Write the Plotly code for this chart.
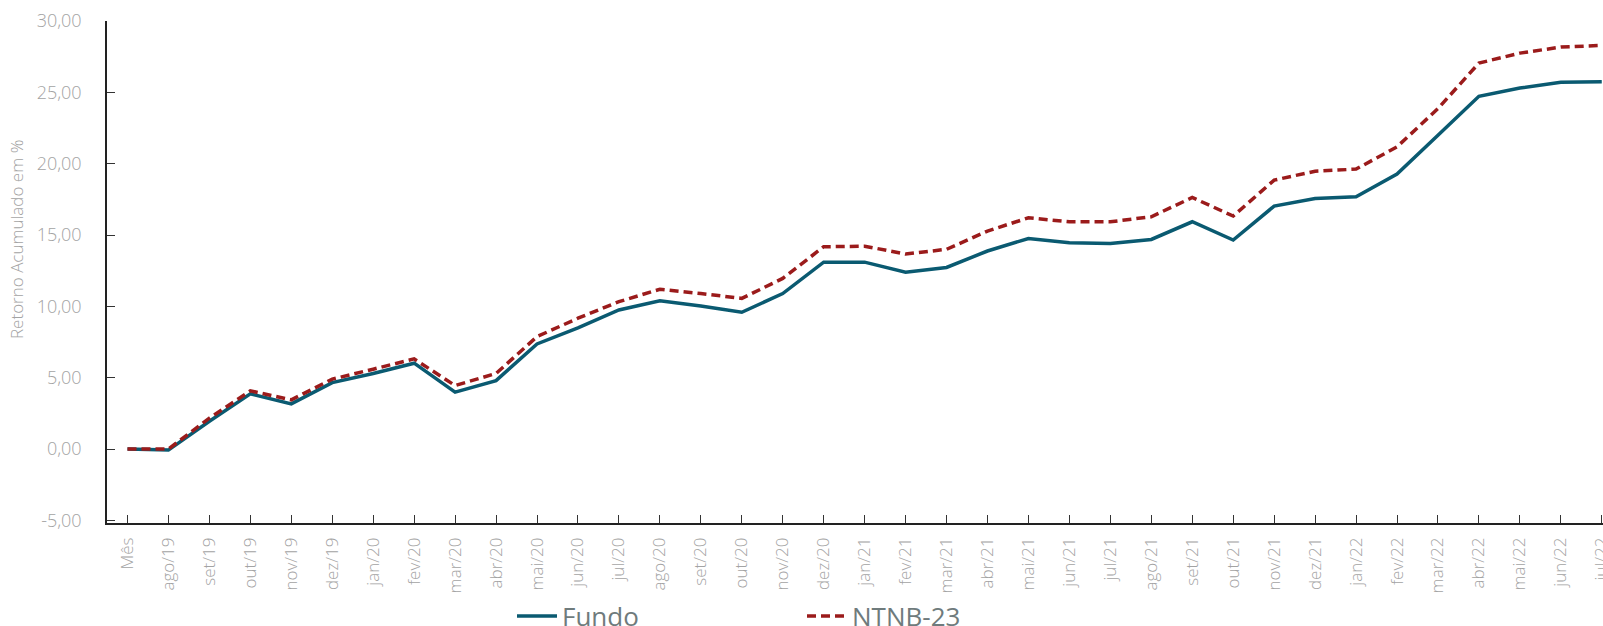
import plotly.graph_objects as go

# Month labels along the horizontal axis
months = [
    "Mês", "ago/19", "set/19", "out/19", "nov/19", "dez/19",
    "jan/20", "fev/20", "mar/20", "abr/20", "mai/20", "jun/20",
    "jul/20", "ago/20", "set/20", "out/20", "nov/20", "dez/20",
    "jan/21", "fev/21", "mar/21", "abr/21", "mai/21", "jun/21",
    "jul/21", "ago/21", "set/21", "out/21", "nov/21", "dez/21",
    "jan/22", "fev/22", "mar/22", "abr/22", "mai/22", "jun/22",
    "jul/22",
]

# Cumulative return (%) of the fund
fundo = [
    0.00, -0.07, 1.95, 3.87, 3.17, 4.66, 5.30, 6.02, 3.99, 4.80,
    7.37, 8.50, 9.75, 10.40, 10.03, 9.59, 10.90, 13.10, 13.10, 12.40,
    12.73, 13.88, 14.76, 14.46, 14.41, 14.69, 15.93, 14.65, 17.03, 17.56,
    17.68, 19.27, 22.00, 24.72, 25.30, 25.70, 25.75,
]

# Cumulative return (%) of the NTN-B 2023 benchmark
ntnb23 = [
    0.00, 0.00, 2.17, 4.08, 3.45, 4.90, 5.60, 6.32, 4.45, 5.30,
    7.88, 9.17, 10.33, 11.20, 10.90, 10.56, 11.96, 14.18, 14.22, 13.67,
    14.00, 15.28, 16.21, 15.93, 15.93, 16.28, 17.63, 16.33, 18.85, 19.47,
    19.62, 21.18, 23.86, 27.05, 27.75, 28.17, 28.29,
]

# Y axis ticks, with Brazilian decimal comma
y_tick_values = [-5, 0, 5, 10, 15, 20, 25, 30]
y_tick_labels = ["-5,00", "0,00", "5,00", "10,00", "15,00", "20,00", "25,00", "30,00"]

BLUE = "#0a5a71"
RED = "#9b1b1b"
TICK_GRAY = "#a3a3a3"
LEGEND_GRAY = "#6f7b7c"
FONT = "Open Sans"

fig = go.Figure()
fig.add_trace(go.Scatter(
    x=months, y=fundo, name="Fundo", mode="lines",
    line=dict(color=BLUE, width=3.5), legend="legend",
))
fig.add_trace(go.Scatter(
    x=months, y=ntnb23, name="NTNB-23", mode="lines",
    line=dict(color=RED, width=3.5, dash="9px,5px"), legend="legend2",
))

legend_common = dict(
    orientation="h",
    font=dict(family=FONT, size=26, color=LEGEND_GRAY),
    bgcolor="rgba(0,0,0,0)",
    xref="container", yref="container",
    xanchor="left", yanchor="middle",
    y=0.016,
    itemwidth=40,
)

fig.update_layout(
    width=1603, height=626,
    margin=dict(l=107, r=0, t=21, b=103, autoexpand=False),
    paper_bgcolor="white", plot_bgcolor="white",
    showlegend=True,
    legend=dict(x=512 / 1603, **legend_common),
    legend2=dict(x=802 / 1603, **legend_common),
    xaxis=dict(
        type="category",
        range=[-0.5, 36.03],
        showgrid=False, zeroline=False,
        showline=True, linecolor="#222222", linewidth=1.5,
        ticks="inside", ticklen=8, tickcolor="#333333", tickwidth=1.2,
        tickangle=-90,
        tickfont=dict(family=FONT, size=17, color=TICK_GRAY, weight=300),
        ticklabelstandoff=6,
    ),
    yaxis=dict(
        range=[-5.18, 30],
        tickvals=y_tick_values, ticktext=y_tick_labels,
        showgrid=False, zeroline=False,
        showline=True, linecolor="#222222", linewidth=1.5,
        ticks="inside", ticklen=8, tickcolor="#333333", tickwidth=1.2,
        tickfont=dict(family=FONT, size=18, color=TICK_GRAY, weight=300),
        ticklabelstandoff=20,
    ),
    annotations=[dict(
        text="Retorno Acumulado em %",
        xref="paper", yref="paper",
        x=-90 / 1496, y=(523 - 240) / 502,
        xanchor="center", yanchor="middle",
        textangle=-90, showarrow=False,
        font=dict(family=FONT, size=17, color=TICK_GRAY, weight=300),
    )],
)

fig.write_html("out.html")
